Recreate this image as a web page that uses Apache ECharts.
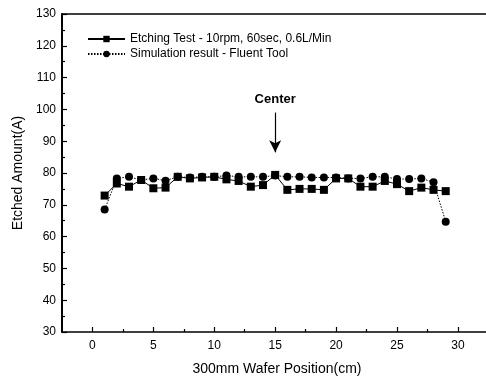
<!DOCTYPE html>
<html>
<head>
<meta charset="utf-8">
<script src="https://cdn.jsdelivr.net/npm/echarts@6/dist/echarts.min.js"></script>
<style>
  html, body { margin: 0; padding: 0; background: #fff; }
  #chart { width: 486px; height: 377px; }
</style>
</head>
<body>
<div id="chart"></div>
<script>
// wafer positions (cm)
const positions = [1, 2, 3, 4, 5, 6, 7, 8, 9, 10, 11, 12, 13, 14, 15, 16, 17, 18, 19, 20, 21, 22, 23, 24, 25, 26, 27, 28, 29];
const etching = [72.9, 76.7, 75.7, 77.8, 75.2, 75.4, 78.8, 78.3, 78.6, 78.8, 78.0, 77.5, 75.7, 76.2, 79.4, 74.7, 75.0, 75.0, 74.7, 78.3, 78.3, 75.7, 75.7, 77.5, 76.5, 74.3, 75.4, 74.7, 74.3];
const simulation = [68.5, 78.3, 78.8, 77.8, 78.3, 77.6, 78.8, 78.6, 78.8, 78.8, 79.2, 78.8, 78.8, 78.8, 79.2, 78.8, 78.8, 78.6, 78.6, 78.6, 78.3, 78.3, 78.8, 78.8, 78.1, 78.1, 78.3, 77.1, 64.7];
const xTicks = [0, 5, 10, 15, 20, 25, 30];
const xMinorTicks = [2.5, 7.5, 12.5, 17.5, 22.5, 27.5];
const seriesNames = ['Etching Test - 10rpm, 60sec, 0.6L/Min', 'Simulation result - Fluent Tool'];

const chart = echarts.init(document.getElementById('chart'));
const font = 'Liberation Sans, Arial, sans-serif';

const option = {
  backgroundColor: '#fff',
  animation: false,
  textStyle: { fontFamily: font, color: '#000' },
  grid: { left: 62, top: 14, width: 430, height: 318, outerBoundsMode: 'none', containLabel: false },
  legend: {
    orient: 'vertical',
    left: 82,
    top: 28,
    itemWidth: 37,
    itemHeight: 8,
    itemGap: 3,
    textStyle: { fontSize: 12, color: '#000', fontFamily: font },
    data: seriesNames
  },
  xAxis: [
    {
      type: 'value',
      min: -2.5,
      max: 32.8,
      name: '300mm Wafer Position(cm)',
      nameLocation: 'middle',
      nameGap: 30,
      nameTextStyle: { fontSize: 14, color: '#000' },
      axisLine: { show: true, onZero: false, lineStyle: { color: '#000', width: 1.5 } },
      axisTick: { inside: true, length: 5, customValues: xTicks, lineStyle: { color: '#000', width: 1.2 } },
      axisLabel: { customValues: xTicks, fontSize: 12, color: '#000', margin: 8 },
      splitLine: { show: false }
    },
    {
      type: 'value',
      min: -2.5,
      max: 32.8,
      position: 'bottom',
      axisLine: { show: false, onZero: false },
      axisTick: { inside: true, length: 3, customValues: xMinorTicks, lineStyle: { color: '#000', width: 1.2 } },
      axisLabel: { show: false },
      splitLine: { show: false }
    },
    {
      type: 'value',
      min: -2.5,
      max: 32.8,
      position: 'top',
      axisLine: { show: true, onZero: false, lineStyle: { color: '#000', width: 1.5 } },
      axisTick: { show: false },
      axisLabel: { show: false },
      splitLine: { show: false }
    }
  ],
  yAxis: {
    type: 'value',
    min: 30,
    max: 130,
    interval: 10,
    name: 'Etched Amount(A)',
    nameLocation: 'middle',
    nameGap: 34,
    nameTextStyle: { fontSize: 14, color: '#000' },
    axisLine: { show: true, onZero: false, lineStyle: { color: '#000', width: 2 } },
    axisTick: { inside: true, length: 5, lineStyle: { color: '#000', width: 1.2 } },
    minorTick: { show: true, splitNumber: 2, length: 3, lineStyle: { color: '#000', width: 1.2 } },
    axisLabel: { fontSize: 12, color: '#000', margin: 6 },
    splitLine: { show: false }
  },
  series: [
    {
      name: seriesNames[0],
      type: 'line',
      data: positions.map((x, i) => [x, etching[i]]),
      symbol: 'rect',
      symbolSize: 8,
      itemStyle: { color: '#000' },
      lineStyle: { color: '#000', width: 1 },
      z: 3,
      markLine: {
        silent: true,
        symbol: ['none', 'arrow'],
        symbolSize: [9, 12],
        lineStyle: { color: '#000', width: 1.2, type: 'solid' },
        label: {
          show: true,
          position: 'start',
          formatter: 'Center',
          fontSize: 13,
          fontWeight: 'bold',
          color: '#000',
          distance: 7
        },
        data: [[{ coord: [15, 99] }, { coord: [15, 86.5] }]]
      }
    },
    {
      name: seriesNames[1],
      type: 'line',
      data: positions.map((x, i) => [x, simulation[i]]),
      symbol: 'circle',
      symbolSize: 8,
      itemStyle: { color: '#000' },
      lineStyle: { color: '#000', width: 1, type: [1.5, 1.5] },
      z: 2
    }
  ]
};

chart.setOption(option);
</script>
</body>
</html>
